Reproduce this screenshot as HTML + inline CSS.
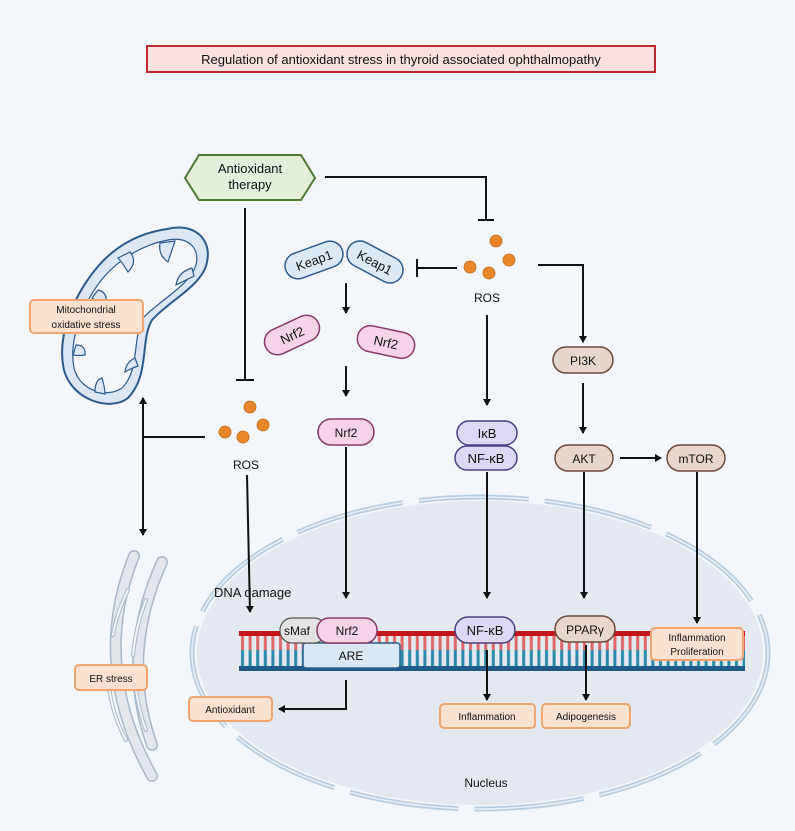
<!DOCTYPE html>
<html><head><meta charset="utf-8"><style>
html,body{margin:0;padding:0;background:#f3f6fa}
svg{display:block}
text{font-family:"Liberation Sans",sans-serif;fill:#111}
</style></head><body>
<svg width="795" height="831" viewBox="0 0 795 831" xmlns="http://www.w3.org/2000/svg">
<defs>
<marker id="a" markerWidth="8" markerHeight="8" refX="6" refY="4" orient="auto" markerUnits="userSpaceOnUse"><path d="M0,0 L7,4 L0,8 z" fill="#111"/></marker>
</defs>
<rect x="0" y="0" width="795" height="831" fill="#f3f6fa"/>
<!-- title -->
<rect x="147" y="46" width="508" height="26" fill="#fde0e0" stroke="#c0282d" stroke-width="2"/>
<text x="401" y="64" font-size="13" text-anchor="middle">Regulation of antioxidant stress in thyroid associated ophthalmopathy</text>

<!-- nucleus -->
<ellipse cx="480" cy="653" rx="283" ry="152" fill="#e4e9ef"/>
<ellipse cx="480" cy="653" rx="288" ry="156" fill="none" stroke="#b9cde0" stroke-width="5" stroke-dasharray="110 16"/>
<ellipse cx="480" cy="653" rx="288" ry="156" fill="none" stroke="#eaf0f6" stroke-width="1.5" stroke-dasharray="110 16"/>

<!-- mitochondrion -->
<path d="M167,229 C195,222 212,240 207,262 C203,285 170,300 152,320 C140,340 150,375 128,398 C110,412 72,400 64,370 C56,335 75,295 95,270 C115,245 140,233 167,229 z" fill="#dbe7f5" stroke="#2b5a8c" stroke-width="2"/>
<path d="M168,240 C190,236 200,250 196,265 C190,285 160,300 143,318 C132,340 140,370 122,388 C108,398 80,392 74,368 C68,338 85,300 103,278 C120,258 145,244 168,240 z" fill="#f3f6fa" stroke="#2b5a8c" stroke-width="1.2"/>
<g fill="#dbe7f5" stroke="#2b5a8c" stroke-width="1.2">
<path d="M130,252 Q138,262 128,272 Q122,262 118,258 z"/>
<path d="M160,243 Q158,255 168,262 Q172,250 175,241 z"/>
<path d="M192,268 Q178,272 176,285 Q186,280 194,276 z"/>
<path d="M98,290 Q108,292 106,305 Q98,302 92,298 z"/>
<path d="M76,345 Q86,345 85,355 Q78,356 73,355 z"/>
<path d="M95,392 Q95,380 102,378 Q105,388 105,394 z"/>
<path d="M135,358 Q126,362 125,372 Q132,368 138,366 z"/>
</g>
<rect x="30" y="300" width="113" height="33" rx="4" fill="#fbe1cf" stroke="#f0a46e" stroke-width="2"/>
<text x="86" y="313" font-size="10" text-anchor="middle">Mitochondrial</text>
<text x="86" y="328" font-size="10" text-anchor="middle">oxidative stress</text>

<!-- ER -->
<g fill="none" stroke-linecap="round">
<g stroke="#a9b8c8" stroke-width="12">
<path d="M134,556 Q90,665 152,776"/>
<path d="M162,562 Q120,655 152,745"/>
</g>
<g stroke="#e3e6ea" stroke-width="9">
<path d="M134,556 Q90,665 152,776"/>
<path d="M162,562 Q120,655 152,745"/>
</g>
<g stroke="#a9b8c8" stroke-width="4">
<path d="M128,590 Q116,615 113,635"/>
<path d="M146,600 Q136,625 133,655"/>
<path d="M108,680 Q112,715 126,740"/>
<path d="M136,690 Q140,715 146,730"/>
</g>
<g stroke="#f3f6fa" stroke-width="2">
<path d="M128,590 Q116,615 113,635"/>
<path d="M146,600 Q136,625 133,655"/>
<path d="M108,680 Q112,715 126,740"/>
<path d="M136,690 Q140,715 146,730"/>
</g>
</g>
<rect x="75" y="665" width="72" height="25" rx="4" fill="#fbe1cf" stroke="#f0a46e" stroke-width="2"/>
<text x="111" y="682" font-size="10" text-anchor="middle">ER stress</text>

<!-- antioxidant therapy -->
<polygon points="185,178 199,155 301,155 315,178 301,200 199,200" fill="#e2efd9" stroke="#4e7a35" stroke-width="2"/>
<text x="250" y="173" font-size="13" text-anchor="middle">Antioxidant</text>
<text x="250" y="189" font-size="13" text-anchor="middle">therapy</text>

<g stroke="#111" stroke-width="2" fill="none">
<polyline points="325,177 486,177 486,220"/>
<line x1="478" y1="220" x2="494" y2="220"/>
<line x1="245" y1="208" x2="245" y2="380"/>
<line x1="236" y1="380" x2="254" y2="380"/>
<line x1="457" y1="268" x2="417" y2="268"/>
<line x1="417" y1="259" x2="417" y2="277"/>
<line x1="346" y1="283" x2="346" y2="313" marker-end="url(#a)"/>
<line x1="346" y1="366" x2="346" y2="396" marker-end="url(#a)"/>
<line x1="346" y1="447" x2="346" y2="598" marker-end="url(#a)"/>
<polyline points="538,265 583,265 583,342" marker-end="url(#a)"/>
<line x1="583" y1="383" x2="583" y2="433" marker-end="url(#a)"/>
<line x1="620" y1="458" x2="661" y2="458" marker-end="url(#a)"/>
<line x1="487" y1="315" x2="487" y2="405" marker-end="url(#a)"/>
<line x1="487" y1="472" x2="487" y2="598" marker-end="url(#a)"/>
<line x1="584" y1="472" x2="584" y2="598" marker-end="url(#a)"/>
<line x1="697" y1="472" x2="697" y2="623" marker-end="url(#a)"/>
<polyline points="346,680 346,709 279,709" marker-end="url(#a)"/>
<line x1="205" y1="437" x2="143" y2="437"/>
<line x1="143" y1="437" x2="143" y2="398" marker-end="url(#a)"/>
<line x1="143" y1="437" x2="143" y2="535" marker-end="url(#a)"/>
<line x1="247" y1="475" x2="250" y2="612" marker-end="url(#a)"/>
</g>

<!-- ROS dots -->
<g fill="#e8862a" stroke="#c06a18" stroke-width="0.8">
<circle cx="496" cy="241" r="6"/><circle cx="470" cy="267" r="6"/><circle cx="489" cy="273" r="6"/><circle cx="509" cy="260" r="6"/>
<circle cx="250" cy="407" r="6"/><circle cx="263" cy="425" r="6"/><circle cx="225" cy="432" r="6"/><circle cx="243" cy="437" r="6"/>
</g>
<text x="487" y="302" font-size="12" text-anchor="middle">ROS</text>
<text x="246" y="469" font-size="12" text-anchor="middle">ROS</text>

<!-- Keap1 -->
<g fill="#dbe9f7" stroke="#2b5a8c" stroke-width="1.5">
<rect x="284" y="247" width="60" height="26" rx="13" transform="rotate(-20 314 260)"/>
<rect x="345" y="249" width="60" height="26" rx="13" transform="rotate(28 375 262)"/>
</g>
<text x="314" y="265" font-size="13" text-anchor="middle" transform="rotate(-20 314 260)">Keap1</text>
<text x="375" y="267" font-size="13" text-anchor="middle" transform="rotate(28 375 262)">Keap1</text>

<!-- Nrf2 -->
<g fill="#f7d3e8" stroke="#8a3a6a" stroke-width="1.5">
<rect x="263" y="322" width="58" height="26" rx="13" transform="rotate(-25 292 335)"/>
<rect x="357" y="329" width="58" height="26" rx="13" transform="rotate(12 386 342)"/>
<rect x="318" y="419" width="56" height="26" rx="13"/>
</g>
<text x="292" y="340" font-size="13" text-anchor="middle" transform="rotate(-25 292 335)">Nrf2</text>
<text x="386" y="347" font-size="13" text-anchor="middle" transform="rotate(12 386 342)">Nrf2</text>
<text x="346" y="437" font-size="12" text-anchor="middle">Nrf2</text>

<!-- PI3K AKT mTOR -->
<g fill="#e8d6cc" stroke="#6a4a3a" stroke-width="1.5">
<rect x="553" y="347" width="60" height="26" rx="13"/>
<rect x="555" y="445" width="58" height="26" rx="13"/>
<rect x="667" y="445" width="58" height="26" rx="13"/>
</g>
<text x="583" y="365" font-size="12" text-anchor="middle">PI3K</text>
<text x="584" y="463" font-size="12" text-anchor="middle">AKT</text>
<text x="696" y="463" font-size="12" text-anchor="middle">mTOR</text>

<!-- IkB NF-kB -->
<g fill="#dcd8f5" stroke="#4a4282" stroke-width="1.5">
<rect x="457" y="421" width="60" height="24" rx="12"/>
<rect x="455" y="446" width="62" height="24" rx="12"/>
</g>
<text x="487" y="438" font-size="13" text-anchor="middle">IκB</text>
<text x="486" y="463" font-size="13" text-anchor="middle">NF-κB</text>

<!-- DNA -->
<pattern id="r" x="239" y="0" width="7.6" height="831" patternUnits="userSpaceOnUse">
<rect x="2" y="635" width="3" height="15" fill="#e0666a"/>
<rect x="2" y="650" width="3" height="17" fill="#2a8aaa"/>
</pattern>
<rect x="239" y="635" width="506" height="32" fill="url(#r)"/>
<rect x="239" y="631" width="506" height="5" fill="#c0161c"/>
<rect x="239" y="666" width="506" height="5" fill="#1f5a8a"/>
<text x="214" y="597" font-size="13">DNA damage</text>

<g stroke="#111" stroke-width="2" fill="none">
<line x1="487" y1="650" x2="487" y2="700" marker-end="url(#a)"/>
<line x1="586" y1="645" x2="586" y2="700" marker-end="url(#a)"/>
</g>

<rect x="303" y="643" width="97" height="25" rx="3" fill="#d9e8f7" stroke="#2a5f8a" stroke-width="1.5"/>
<text x="351" y="660" font-size="12" text-anchor="middle">ARE</text>
<rect x="280" y="618" width="46" height="25" rx="12" fill="#e3e3e3" stroke="#555" stroke-width="1.2"/>
<text x="297" y="635" font-size="12" text-anchor="middle">sMaf</text>
<rect x="317" y="618" width="60" height="25" rx="12" fill="#f7d3e8" stroke="#8a3a6a" stroke-width="1.5"/>
<text x="347" y="635" font-size="12" text-anchor="middle">Nrf2</text>
<rect x="455" y="617" width="60" height="26" rx="13" fill="#dcd8f5" stroke="#4a4282" stroke-width="1.5"/>
<text x="485" y="635" font-size="13" text-anchor="middle">NF-κB</text>
<rect x="555" y="616" width="60" height="26" rx="13" fill="#e8d6cc" stroke="#6a4a3a" stroke-width="1.5"/>
<text x="585" y="634" font-size="12" text-anchor="middle">PPARγ</text>

<g fill="#fbe1cf" stroke="#f0a46e" stroke-width="2">
<rect x="651" y="628" width="92" height="32" rx="4"/>
<rect x="189" y="697" width="83" height="24" rx="4"/>
<rect x="440" y="704" width="95" height="24" rx="4"/>
<rect x="542" y="704" width="88" height="24" rx="4"/>
</g>
<text x="697" y="641" font-size="10" text-anchor="middle">Inflammation</text>
<text x="697" y="655" font-size="10" text-anchor="middle">Proliferation</text>
<text x="230" y="713" font-size="10" text-anchor="middle">Antioxidant</text>
<text x="487" y="720" font-size="10" text-anchor="middle">Inflammation</text>
<text x="586" y="720" font-size="10" text-anchor="middle">Adipogenesis</text>
<text x="486" y="787" font-size="12" text-anchor="middle">Nucleus</text>
</svg>
</body></html>
